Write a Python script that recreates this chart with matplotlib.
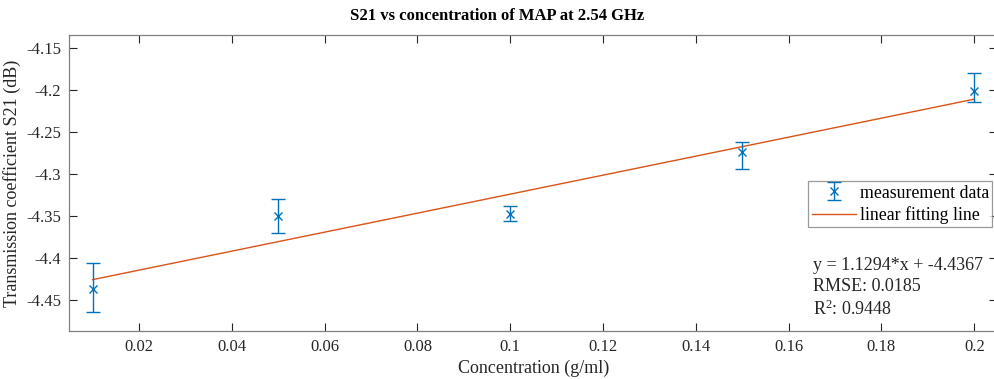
import numpy as np
import matplotlib
matplotlib.use("Agg")
import matplotlib.pyplot as plt

# -------------------------------
# Data
# -------------------------------
concentration = [0.01, 0.05, 0.10, 0.15, 0.20]
s21_mean = [-4.4365, -4.3496, -4.3473, -4.2738, -4.2010]
err_lower = [0.0278, 0.0207, 0.0083, 0.0206, 0.0131]
err_upper = [0.0305, 0.0203, 0.0090, 0.0123, 0.0218]

fit_x = [0.01, 0.20]
fit_y = [-4.4254, -4.2108]

fit_text = "y = 1.1294*x + -4.4367\nRMSE: 0.0185\nR$^2$: 0.9448"

x_ticks = [0.02, 0.04, 0.06, 0.08, 0.10, 0.12, 0.14, 0.16, 0.18, 0.20]
x_tick_labels = ["0.02", "0.04", "0.06", "0.08", "0.1", "0.12", "0.14", "0.16", "0.18", "0.2"]
y_ticks = [-4.45, -4.4, -4.35, -4.3, -4.25, -4.2, -4.15]
y_tick_labels = ["-4.45", "-4.4", "-4.35", "-4.3", "-4.25", "-4.2", "-4.15"]

# -------------------------------
# Style
# -------------------------------
plt.rcParams["font.family"] = ["Liberation Serif", "DejaVu Serif"]
plt.rcParams["mathtext.fontset"] = "custom"
plt.rcParams["mathtext.rm"] = "Liberation Serif"
plt.rcParams["mathtext.it"] = "Liberation Serif"

BLUE = "#0072BD"
ORANGE = "#D95319"
AXIS = "#262626"
W, H = 995, 379

fig = plt.figure(figsize=(W / 100, H / 100), dpi=100)
ax = fig.add_axes([69.5 / W, (H - 331) / H, 928 / W, 296 / H])

meas = ax.errorbar(
    concentration, s21_mean,
    yerr=[err_lower, err_upper],
    fmt="x", color=BLUE, ecolor=BLUE,
    markersize=6, markeredgewidth=1.0,
    elinewidth=1.0, capsize=5, capthick=1.0,
    label="measurement data", zorder=3
)
fit_line, = ax.plot(fit_x, fit_y, color=ORANGE, linewidth=1.0, label="linear fitting line", zorder=2)

ax.set_xlim(0.005, 0.205)
ax.set_ylim(-4.4865, -4.1345)
ax.set_xticks(x_ticks)
ax.set_xticklabels(x_tick_labels)
ax.set_yticks(y_ticks)
ax.set_yticklabels(y_tick_labels)

ax.tick_params(direction="in", length=6, width=0.8, colors=AXIS,
               labelsize=12, top=True, right=True, pad=6)
for side in ax.spines.values():
    side.set_color("#808080")
    side.set_linewidth(0.9)

ax.set_xlabel("Concentration (g/ml)", fontsize=13, color=AXIS, labelpad=3)
ax.set_ylabel("Transmission coefficient S21 (dB)", fontsize=13, color=AXIS, labelpad=4)

fig.text(497 / W, 1 - 16 / H, "S21 vs concentration of MAP at 2.54 GHz",
         fontsize=12, fontweight="bold", color="black", ha="center", va="center")

leg = ax.legend([meas, fit_line], ["measurement data", "linear fitting line"],
                loc="upper left", bbox_to_anchor=((808 - 69.5) / 928, 1 - (181 - 35) / 296),
                fontsize=12.8, frameon=True, fancybox=False, borderpad=0.2,
                handlelength=2.5, handletextpad=0.2, borderaxespad=0, labelspacing=0.25)
leg.get_frame().set_edgecolor("#808080")
leg.get_frame().set_linewidth(0.9)

ax.text((813 - 69.5) / 928, 1 - (257 - 35) / 296, fit_text, transform=ax.transAxes,
        fontsize=13, color=AXIS, ha="left", va="top", linespacing=1.3)

fig.savefig("out.png", dpi=100)
